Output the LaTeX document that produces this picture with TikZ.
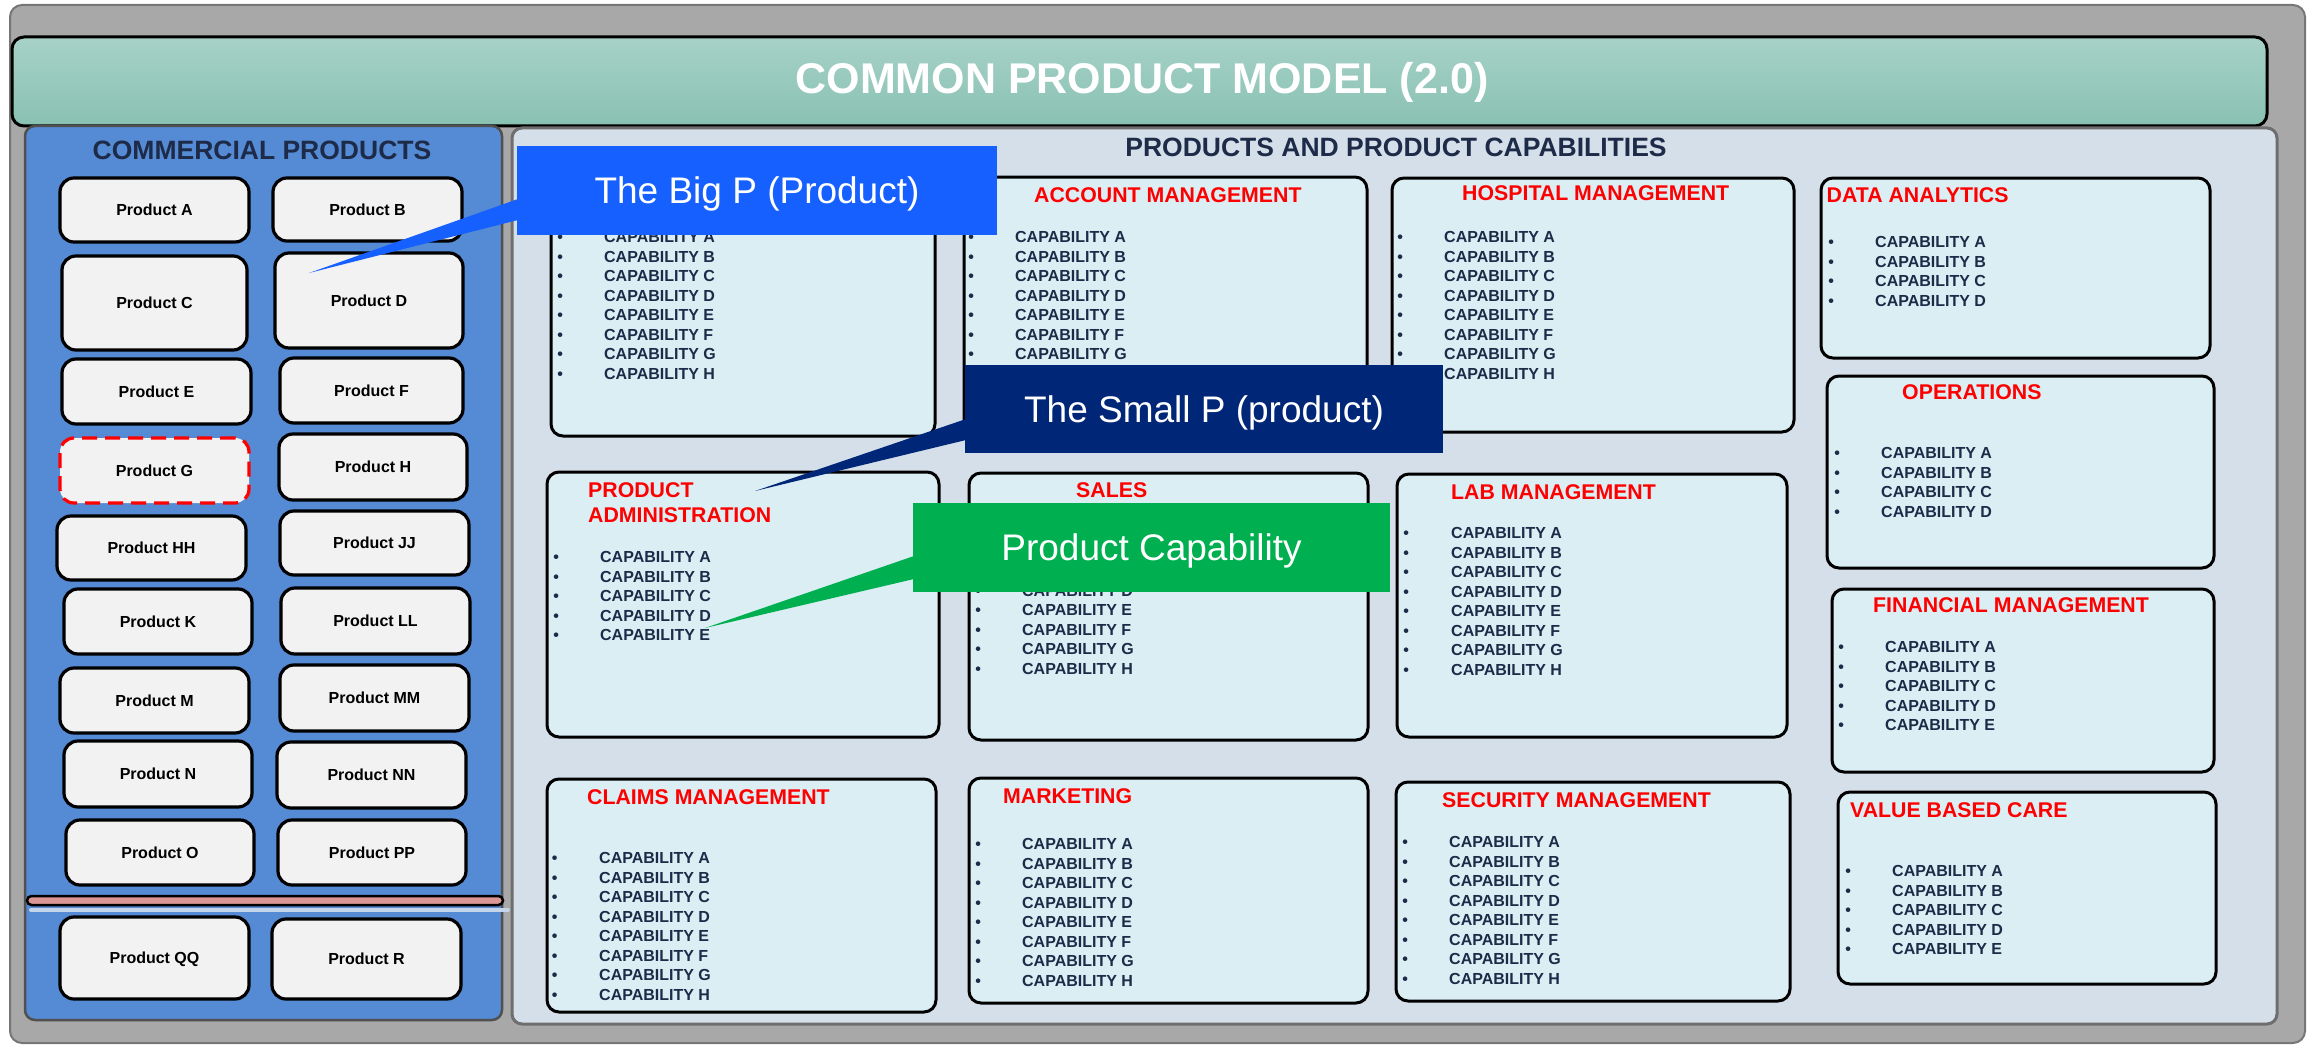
\documentclass[tikz,border=0pt]{standalone}
\usepackage{fontspec}
\setmainfont{Liberation Sans}
\definecolor{outerg}{RGB}{168,168,168}
\definecolor{outerb}{RGB}{118,118,118}
\definecolor{ttop}{RGB}{167,209,199}
\definecolor{tbot}{RGB}{136,193,178}
\definecolor{lpanel}{RGB}{85,138,212}
\definecolor{lpanelb}{RGB}{80,80,80}
\definecolor{rpanel}{RGB}{213,223,234}
\definecolor{rpanelb}{RGB}{110,110,110}
\definecolor{capfill}{RGB}{219,238,244}
\definecolor{prodfill}{RGB}{242,242,242}
\definecolor{capnavy}{RGB}{29,43,72}
\definecolor{bigblue}{RGB}{22,96,255}
\definecolor{smallnavy}{RGB}{0,38,120}
\definecolor{capgreen}{RGB}{0,176,80}
\definecolor{sepfill}{RGB}{217,150,148}
\definecolor{sepshadow}{RGB}{196,212,234}
\newlength\capind
\newcommand\cp[1]{\makebox[\capind][l]{•}CAPABILITY #1\\}
\newcommand\cbox[5]{\node[capbox, minimum width={(#4-#2)*1pt}, minimum height={(#5-#3)*1pt}] (#1) at (#2,#3) {};}
\newcommand\pbx[7]{\node[#1, minimum width={(#5-#3)*1pt}, minimum height={(#6-#4)*1pt}] (#2) at (#3,#4) {#7};}
\newcommand\ttl[4]{\node[ttl] (#1) at (#2,#3) {#4};}
\newcommand\caps[5]{\node[caplist] (#1) at (#2-2.8,#4+5.7) {\setlength\capind{\dimexpr #3pt-#2pt+2.8pt\relax}\begin{tabular}[t]{@{}l@{}}#5\end{tabular}};}
\begin{document}
\begin{tikzpicture}[x=1pt,y=-1pt,
  panel/.style={anchor=north west, inner sep=0pt, outer sep=0pt},
  prod/.style={draw=black, line width=3.2pt, fill=prodfill, rounded corners=14pt, inner sep=0pt, outer sep=0pt, anchor=north west, font=\fontsize{16}{19}\selectfont\bfseries, text height=11.5pt, text depth=0pt},
  proddash/.style={prod, draw=red, dash pattern=on 15pt off 8pt},
  capbox/.style={draw=black, line width=3pt, fill=capfill, rounded corners=12pt, inner sep=0pt, outer sep=0pt, anchor=north west},
  ttl/.style={anchor=west, inner sep=0pt, text=red, font=\fontsize{21.3}{25}\selectfont\bfseries, text height=15.25pt, text depth=0pt},
  ttl2/.style={anchor=base west, inner sep=0pt, text=red, font=\fontsize{21.3}{25}\selectfont\bfseries},
  caplist/.style={anchor=base west, inner sep=0pt, text=capnavy, font=\fontsize{16}{19.5}\selectfont\bfseries},
  head/.style={inner sep=0pt, text=capnavy, font=\fontsize{26.5}{30}\selectfont\bfseries, text height=19pt, text depth=0pt},
  callout/.style={anchor=north west, inner sep=0pt, outer sep=0pt, text=white, font=\fontsize{37}{40}\selectfont, text height=26.5pt, text depth=0pt}]
\useasboundingbox (0,0) rectangle (2310,1046);
% outer frame
\node[panel, draw=outerb, line width=2pt, fill=outerg, rounded corners=12pt, minimum width=2295pt, minimum height=1038pt] (outer) at (10,5) {};
% title bar
\node[panel, draw=black, line width=3pt, top color=ttop, bottom color=tbot, rounded corners=12pt, minimum width=2255pt, minimum height=89pt] (titlebar) at (12,37) {};
\node[inner sep=0pt, text=white, font=\fontsize{43}{46}\selectfont\bfseries, text height=30.8pt, text depth=0pt] (title) at (1142,78.5) {COMMON PRODUCT MODEL (2.0)};
% panels
\node[panel, draw=lpanelb, line width=2.5pt, fill=lpanel, rounded corners=10pt, minimum width=477pt, minimum height=894pt] (lpanel) at (25,126) {};
\node[panel, draw=rpanelb, line width=3pt, fill=rpanel, rounded corners=10pt, minimum width=1765pt, minimum height=896pt] (rpanel) at (512,128) {};
\node[head] (lhead) at (262,150.5) {COMMERCIAL PRODUCTS};
\node[head] (rhead) at (1396,147.5) {PRODUCTS AND PRODUCT CAPABILITIES};
% products
\pbx{prod}{pA}{60}{178}{249}{242}{Product A}
\pbx{prod}{pB}{273}{178}{462}{241}{Product B}
\pbx{prod}{pC}{62}{256}{247}{350}{Product C}
\pbx{prod}{pD}{275}{253}{463}{348}{Product D}
\pbx{prod}{pE}{62}{359}{251}{424}{Product E}
\pbx{prod}{pF}{280}{358}{463}{423}{Product F}
\pbx{proddash}{pG}{60}{438}{249}{503}{Product G}
\pbx{prod}{pH}{279}{434}{467}{500}{Product H}
\pbx{prod}{pHH}{57}{516}{246}{580}{Product HH}
\pbx{prod}{pJJ}{280}{511}{469}{575}{Product JJ}
\pbx{prod}{pK}{64}{589}{252}{654}{Product K}
\pbx{prod}{pLL}{281}{588}{470}{654}{Product LL}
\pbx{prod}{pM}{60}{668}{249}{733}{Product M}
\pbx{prod}{pMM}{280}{665}{469}{731}{Product MM}
\pbx{prod}{pN}{64}{741}{252}{807}{Product N}
\pbx{prod}{pNN}{277}{742}{466}{808}{Product NN}
\pbx{prod}{pO}{66}{820}{254}{885}{Product O}
\pbx{prod}{pPP}{278}{820}{466}{885}{Product PP}
\draw[sepshadow, line width=4pt, line cap=round] (31,910) -- (508,910);
\node[panel, draw=black, line width=2.5pt, fill=sepfill, rounded corners=4.5pt, minimum width=476pt, minimum height=9pt] (sep) at (27,896) {};
\pbx{prod}{pQQ}{60}{917}{249}{999}{Product QQ}
\pbx{prod}{pR}{272}{919}{461}{999}{Product R}
% capability boxes
\cbox{bx1}{551}{178}{935}{436}
\cbox{acct}{964}{177}{1367}{435}
\cbox{hosp}{1392}{178}{1794}{432}
\cbox{data}{1821}{178}{2210}{358}
\cbox{oper}{1827}{376}{2214}{568}
\cbox{padm}{547}{472}{939}{737}
\cbox{sales}{969}{473}{1368}{740}
\cbox{lab}{1397}{474}{1787}{737}
\cbox{fin}{1832}{589}{2214}{772}
\cbox{claims}{547}{779}{936}{1012}
\cbox{mkt}{969}{778}{1368}{1003}
\cbox{sec}{1396}{782}{1790}{1001}
\cbox{vbc}{1838}{792}{2216}{984}
% titles
\ttl{acctT}{1034}{194.5}{ACCOUNT MANAGEMENT}
\ttl{hospT}{1462}{193}{HOSPITAL MANAGEMENT}
\ttl{dataT}{1826.5}{195}{DATA ANALYTICS}
\ttl{operT}{1902}{392}{OPERATIONS}
\node[ttl2] (padmT) at (588,497.6) {\begin{tabular}[t]{@{}l@{}}PRODUCT\\ADMINISTRATION\end{tabular}};
\ttl{salesT}{1076}{490}{SALES}
\ttl{labT}{1451}{492}{LAB MANAGEMENT}
\ttl{finT}{1873}{604.5}{FINANCIAL MANAGEMENT}
\ttl{claimsT}{587}{797}{CLAIMS MANAGEMENT}
\ttl{mktT}{1003}{796}{MARKETING}
\ttl{secT}{1442}{800}{SECURITY MANAGEMENT}
\ttl{vbcT}{1850}{810}{VALUE BASED CARE}
% capability lists
\caps{bx1L}{560}{604}{237}{\cp A\cp B\cp C\cp D\cp E\cp F\cp G\cp H}
\caps{acctL}{971}{1015}{237}{\cp A\cp B\cp C\cp D\cp E\cp F\cp G}
\caps{hospL}{1400}{1444}{237}{\cp A\cp B\cp C\cp D\cp E\cp F\cp G\cp H}
\caps{dataL}{1831}{1875}{242}{\cp A\cp B\cp C\cp D}
\caps{operL}{1837}{1881}{453}{\cp A\cp B\cp C\cp D}
\caps{padmL}{556}{600}{557}{\cp A\cp B\cp C\cp D\cp E}
\caps{salesL}{978}{1022}{590.5}{\cp D\cp E\cp F\cp G\cp H}
\caps{labL}{1406}{1451}{533}{\cp A\cp B\cp C\cp D\cp E\cp F\cp G\cp H}
\caps{finL}{1841}{1885}{647}{\cp A\cp B\cp C\cp D\cp E}
\caps{claimsL}{554.5}{599}{858}{\cp A\cp B\cp C\cp D\cp E\cp F\cp G\cp H}
\caps{mktL}{978}{1022}{844}{\cp A\cp B\cp C\cp D\cp E\cp F\cp G\cp H}
\caps{secL}{1405}{1449}{842}{\cp A\cp B\cp C\cp D\cp E\cp F\cp G\cp H}
\caps{vbcL}{1848}{1892}{871}{\cp A\cp B\cp C\cp D\cp E}
% callouts
\node[callout, fill=bigblue, minimum width=480pt, minimum height=89pt] (bigP) at (517,146) {The Big P (Product)};
\coordinate (bigtip) at (309,273);
\fill[bigblue] (518,199) -- (bigtip) -- (518,220) -- cycle;
\node[callout, fill=smallnavy, minimum width=478pt, minimum height=88pt] (smallP) at (965,365) {The Small P (product)};
\coordinate (smalltip) at (755,491);
\fill[smallnavy] (966,419) -- (smalltip) -- (966,440) -- cycle;
\node[callout, fill=capgreen, minimum width=477pt, minimum height=89pt] (capP) at (913,503) {Product Capability};
\coordinate (captip) at (705,628);
\fill[capgreen] (914,556) -- (captip) -- (914,579) -- cycle;
\end{tikzpicture}
\end{document}
